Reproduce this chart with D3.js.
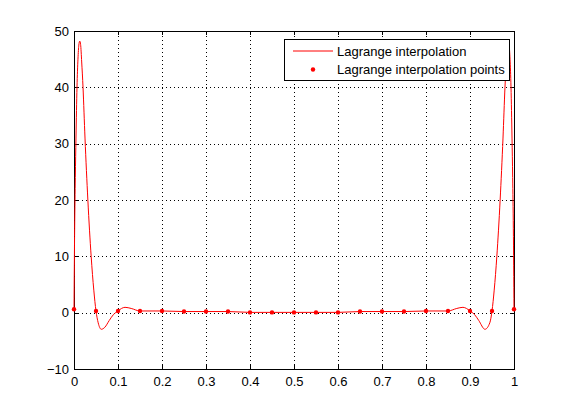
<html>
<head>
<meta charset="utf-8">
<style>
    body {
        margin: 0;
        background: white;
        font-family: "Liberation Sans", Arial, Helvetica, sans-serif;
    }
    svg text {
        font-size: 13px;
        fill: black;
    }
</style>
<script src="https://d3js.org/d3.v7.min.js"></script>
</head>
<body>
<svg id="chart"></svg>
<script>
    // interpolation nodes
    let nodeX = [0, 0.05, 0.1, 0.15, 0.2, 0.25, 0.3, 0.35, 0.4, 0.45, 0.5,
                 0.55, 0.6, 0.65, 0.7, 0.75, 0.8, 0.85, 0.9, 0.95, 1]
    let nodeY = [0.6, 0.3, 0.3, 0.3, 0.3, 0.2, 0.2, 0.2, 0.05, 0.05, 0.05,
                 0.05, 0.05, 0.2, 0.2, 0.2, 0.3, 0.3, 0.3, 0.3, 0.6]

    // interpolating polynomial
    let curveX = [0, 0.0015, 0.003, 0.0045, 0.0068, 0.009, 0.011, 0.013, 0.015, 0.0175,
                  0.0205, 0.025, 0.0315, 0.039, 0.045, 0.05, 0.055, 0.062, 0.07, 0.08,
                  0.09, 0.1, 0.108, 0.116, 0.13, 0.15, 0.2, 0.25, 0.3, 0.35,
                  0.4, 0.45, 0.5, 0.55, 0.6, 0.65, 0.7, 0.75, 0.8, 0.85,
                  0.87, 0.884, 0.892, 0.9, 0.91, 0.92, 0.934, 0.945, 0.95, 0.955,
                  0.961, 0.9685, 0.975, 0.9795, 0.9825, 0.985, 0.987, 0.989, 0.991, 0.9932,
                  0.9955, 0.997, 0.9985, 1]
    let curveY = [0.6, 15, 24, 31, 40, 45, 47.5, 48.2, 47.6, 44.5,
                  40, 31, 20, 10, 4, 0.3, -1.8, -2.95, -2.6, -1.4,
                  -0.3, 0.3, 0.75, 0.95, 0.75, 0.3, 0.3, 0.2, 0.2, 0.2,
                  0.05, 0.05, 0.05, 0.05, 0.05, 0.2, 0.2, 0.2, 0.3, 0.3,
                  0.75, 0.95, 0.75, 0.3, -0.3, -1.4, -2.95, -1.8, 0.3, 4,
                  10, 20, 31, 40, 44.5, 47.6, 48.2, 47.5, 45, 40,
                  31, 24, 15, 0.6]

    let xTicks = [0, 0.1, 0.2, 0.3, 0.4, 0.5, 0.6, 0.7, 0.8, 0.9, 1]
    let yTicks = [-10, 0, 10, 20, 30, 40, 50]
    let legendLabels = ["Lagrange interpolation", "Lagrange interpolation points"]

    let width = 568
    let height = 415
    let margin = {left: 74, right: 54, top: 31, bottom: 46}
    let svg = d3.select('#chart')
        .attr('width', width)
        .attr('height', height)

    let xScale = d3.scaleLinear()
        .domain([0, 1])
        .range([margin.left, width - margin.right])
    let yScale = d3.scaleLinear()
        .domain([-10, 50])
        .range([height - margin.bottom, margin.top])

    let x0 = xScale(0), x1 = xScale(1)
    let y0 = yScale(-10), y1 = yScale(50)

    // dotted grid
    let grid = svg.append('g')
        .attr('stroke', 'black')
        .attr('stroke-width', 1)
        .attr('stroke-dasharray', '1,3')
        .attr('shape-rendering', 'crispEdges')
    grid.selectAll('.gx').data(xTicks.slice(1, -1))
        .enter().append('line')
        .attr('x1', d => Math.round(xScale(d)) + 0.5)
        .attr('x2', d => Math.round(xScale(d)) + 0.5)
        .attr('y1', y0)
        .attr('y2', y1)
    grid.selectAll('.gy').data(yTicks.slice(1, -1))
        .enter().append('line')
        .attr('y1', d => Math.round(yScale(d)) + 0.5)
        .attr('y2', d => Math.round(yScale(d)) + 0.5)
        .attr('x1', x0)
        .attr('x2', x1)

    // axes with inward ticks
    let axisB = d3.axisBottom(xScale).tickValues(xTicks).tickSizeInner(-4).tickSizeOuter(0)
        .tickFormat(d => d)
    let axisL = d3.axisLeft(yScale).tickValues(yTicks).tickSizeInner(-4).tickSizeOuter(0)
    let axisT = d3.axisTop(xScale).tickValues(xTicks).tickSizeInner(-4).tickSizeOuter(0)
        .tickFormat('')
    let axisR = d3.axisRight(yScale).tickValues(yTicks).tickSizeInner(-4).tickSizeOuter(0)
        .tickFormat('')

    function styleAxis(g) {
        g.selectAll('path, line').attr('stroke', 'black').attr('shape-rendering', 'crispEdges')
        g.attr('font-family', null).attr('font-size', null)
    }

    svg.append('g').attr('transform', `translate(0,${y0})`).call(axisB).call(styleAxis)
        .selectAll('text').attr('dy', '1.05em')
    svg.append('g').attr('transform', `translate(${x0},0)`).call(axisL).call(styleAxis)
        .selectAll('text').attr('x', -5)
    svg.append('g').attr('transform', `translate(0,${y1})`).call(axisT).call(styleAxis)
    svg.append('g').attr('transform', `translate(${x1},0)`).call(axisR).call(styleAxis)

    // curve
    let curveData = curveX.map((x, i) => [x, curveY[i]])
    let line = d3.line()
        .x(d => xScale(d[0]))
        .y(d => yScale(d[1]))
        .curve(d3.curveMonotoneX)
    svg.append('path')
        .datum(curveData)
        .attr('d', line)
        .attr('fill', 'none')
        .attr('stroke', 'red')
        .attr('stroke-width', 1)

    // nodes
    let nodes = nodeX.map((x, i) => [x, nodeY[i]])
    svg.selectAll('.node').data(nodes)
        .enter().append('circle')
        .attr('cx', d => xScale(d[0]))
        .attr('cy', d => yScale(d[1]))
        .attr('r', 2.2)
        .attr('fill', 'red')

    // legend
    let legend = svg.append('g')
    legend.append('rect')
        .attr('x', 284.5).attr('y', 39.5)
        .attr('width', 225).attr('height', 41)
        .attr('fill', 'white')
        .attr('stroke', 'black')
    legend.append('line')
        .attr('x1', 293).attr('x2', 333)
        .attr('y1', 51).attr('y2', 51)
        .attr('stroke', 'red')
    legend.append('circle')
        .attr('cx', 313).attr('cy', 69.5).attr('r', 2.2)
        .attr('fill', 'red')
    legend.selectAll('.lt').data(legendLabels)
        .enter().append('text')
        .attr('x', 337)
        .attr('y', (d, i) => 51 + i * 18.5)
        .attr('dy', '0.36em')
        .text(d => d)
</script>
</body>
</html>
